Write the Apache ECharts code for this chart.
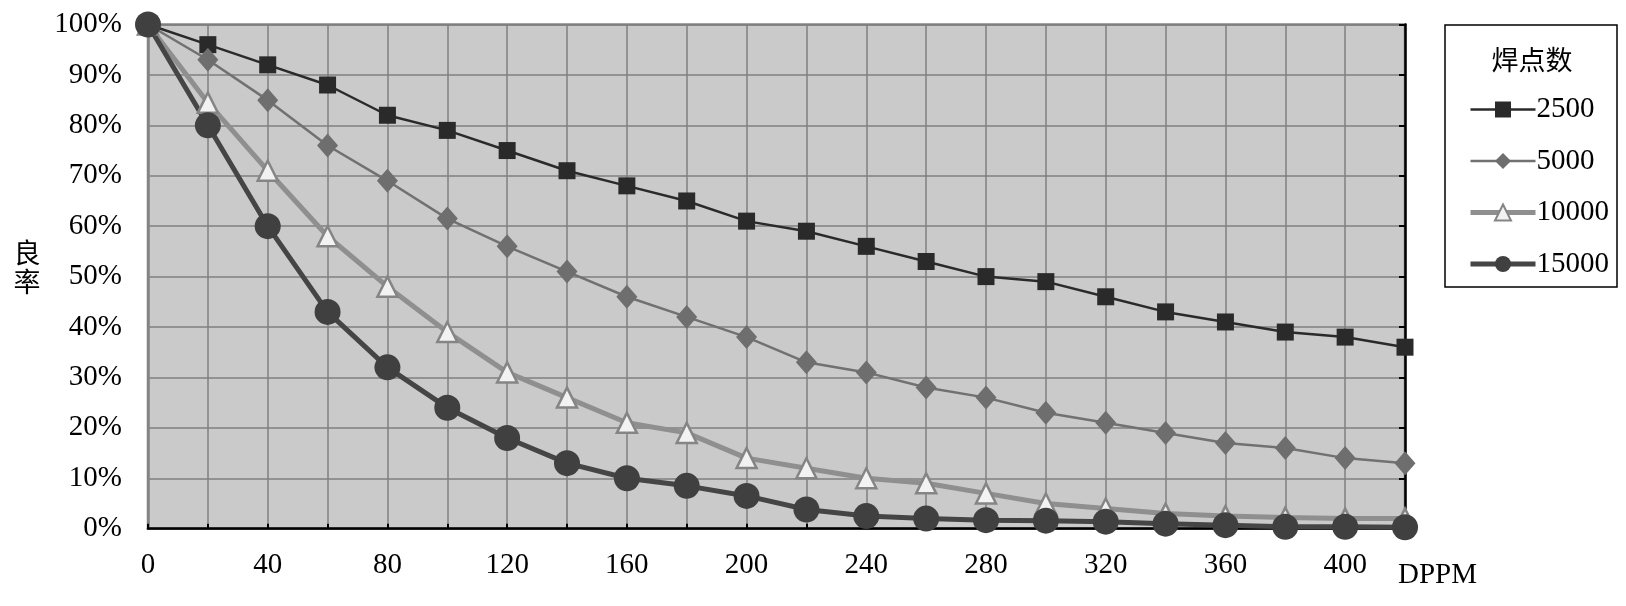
<!DOCTYPE html>
<html>
<head>
<meta charset="utf-8">
<script src="https://cdn.jsdelivr.net/npm/echarts@6/dist/echarts.min.js"></script>
<style>
html,body{margin:0;padding:0;background:#fff;}
#chart{width:1626px;height:606px;}
</style>
</head>
<body>
<div id="chart"></div>
<script>
// DPPM values (x axis)
const dppm = [0,20,40,60,80,100,120,140,160,180,200,220,240,260,280,300,320,340,360,380,400,420];
// Yield (%) per solder-joint count
const s2500  = [100,96,92,88,82,79,75,71,68,65,61,59,56,53,50,49,46,43,41,39,38,36];
const s5000  = [100,93,85,76,69,61.5,56,51,46,42,38,33,31,28,26,23,21,19,17,16,14,13];
const s10000 = [100,84.5,71,58,48,39,31,26,21,19,14,12,10,9,7,5,4,3,2.5,2.2,2,2];
const s15000 = [100,80,60,43,32,24,18,13,10,8.5,6.5,3.8,2.5,2,1.7,1.6,1.4,1,0.7,0.4,0.4,0.3];
const seriesNames = ['2500','5000','10000','15000'];
const legendTitle = '焊点数';
const yTitle = '良\n率';
const xTitle = 'DPPM';

const pair = arr => dppm.map((x,i)=>[x,arr[i]]);
const serif = 'Liberation Serif, Times New Roman, serif';
const lineWidths = [2.5,2.5,5,5];
const lineColors = ['#2a2a2a','#717171','#8f8f8f','#454545'];

const chart = echarts.init(document.getElementById('chart'), null, {renderer:'canvas'});
chart.setOption({
  animation:false,
  backgroundColor:'#ffffff',
  grid:{left:148,right:221,top:24.5,bottom:77.3,show:true,backgroundColor:'#cacaca',borderColor:'#858585',borderWidth:2.5},
  xAxis:{
    type:'value',min:0,max:420,interval:20,
    axisLine:{show:true,onZero:false,lineStyle:{color:'#000',width:2.5}},
    axisTick:{show:true,inside:true,length:5,lineStyle:{color:'#000',width:2}},
    splitLine:{show:true,lineStyle:{color:'#7f7f7f',width:1.5}},
    axisLabel:{margin:22,color:'#000',fontFamily:serif,fontSize:29,
      formatter:v=> (v%40===0 && v<=400) ? String(v) : ''}
  },
  yAxis:[{
    type:'value',min:0,max:100,interval:10,
    axisLine:{show:true,lineStyle:{color:'#858585',width:2.5}},
    axisTick:{show:false},
    splitLine:{show:true,lineStyle:{color:'#7f7f7f',width:1.5}},
    axisLabel:{margin:26,color:'#000',fontFamily:serif,fontSize:29,formatter:'{value}%'}
  },{
    type:'value',min:0,max:100,interval:10,position:'right',
    axisLine:{show:true,lineStyle:{color:'#000',width:2.5}},
    axisTick:{show:true,inside:true,length:6,lineStyle:{color:'#000',width:2}},
    splitLine:{show:false},axisLabel:{show:false}
  }],
  legend:{
    orient:'vertical',left:1463,top:90,itemWidth:65,itemHeight:20,itemGap:22.5,
    data:seriesNames.map((n,i)=>({name:n,lineStyle:{width:lineWidths[i],color:lineColors[i]}})),
    textStyle:{fontFamily:serif,fontSize:29,color:'#000',lineHeight:29,padding:[0,0,0,-4]}
  },
  graphic:[
    {type:'rect',shape:{x:1445,y:25,width:172,height:262},style:{fill:'#fff',stroke:'#000',lineWidth:1.5},z:-1},
    {type:'text',x:1532,y:60,style:{text:legendTitle,fontFamily:'Noto Sans CJK SC',fontSize:27,fill:'#000',textAlign:'center',textVerticalAlign:'middle'}},
    {type:'text',x:27,y:267,style:{text:yTitle,fontFamily:'Noto Sans CJK SC',fontSize:27,lineHeight:29,fill:'#000',textAlign:'center',textVerticalAlign:'middle'}},
    {type:'text',x:1398,y:575,style:{text:xTitle,fontFamily:serif,fontSize:29,fill:'#000',textAlign:'left',textVerticalAlign:'middle'}}
  ],
  series:[
    {name:'2500',type:'line',data:pair(s2500),clip:false,symbol:'rect',symbolSize:17,
      lineStyle:{color:lineColors[0],width:lineWidths[0]},itemStyle:{color:'#2a2a2a'}},
    {name:'5000',type:'line',data:pair(s5000),clip:false,symbol:'diamond',symbolSize:[21,24],
      lineStyle:{color:lineColors[1],width:lineWidths[1]},itemStyle:{color:'#6e6e6e'}},
    {name:'10000',type:'line',data:pair(s10000),clip:false,symbol:'triangle',symbolSize:20,
      lineStyle:{color:lineColors[2],width:lineWidths[2]},itemStyle:{color:'#f2f2f2',borderColor:'#858585',borderWidth:2.5}},
    {name:'15000',type:'line',data:pair(s15000),clip:false,symbol:'circle',symbolSize:26,
      lineStyle:{color:lineColors[3],width:lineWidths[3]},itemStyle:{color:'#404040'}}
  ]
});
</script>
</body>
</html>
